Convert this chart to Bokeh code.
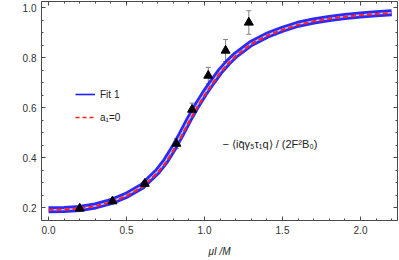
from bokeh.plotting import figure
from bokeh.models import (ColumnDataSource, Range1d, LinearAxis, Legend, LegendItem,
                          Label, Whisker, TeeHead, FixedTicker, PrintfTickFormatter)
from bokeh.embed import file_html
from bokeh.resources import INLINE

# ---- data ----
fit_x = [0.0, 0.1, 0.2, 0.3, 0.4, 0.5, 0.6, 0.7, 0.75, 0.8, 0.85, 0.9, 0.95, 1.0,
         1.05, 1.1, 1.15, 1.2, 1.3, 1.4, 1.5, 1.6, 1.7, 1.8, 1.9, 2.0, 2.1, 2.2]
fit_y = [0.192, 0.193, 0.197, 0.207, 0.224, 0.250, 0.286, 0.346, 0.386, 0.436, 0.492,
         0.552, 0.607, 0.657, 0.702, 0.745, 0.780, 0.810, 0.857, 0.889, 0.913, 0.933,
         0.946, 0.956, 0.964, 0.970, 0.975, 0.979]
a1_y = [0.192, 0.193, 0.197, 0.206, 0.222, 0.247, 0.282, 0.340, 0.379, 0.428, 0.483,
        0.543, 0.598, 0.649, 0.695, 0.739, 0.775, 0.806, 0.854, 0.887, 0.911, 0.931,
        0.945, 0.955, 0.963, 0.969, 0.974, 0.978]
pts_x = [0.20, 0.41, 0.617, 0.82, 0.92, 1.024, 1.135, 1.284]
pts_y = [0.197, 0.226, 0.296, 0.456, 0.592, 0.728, 0.828, 0.940]
pts_err = [0.006, 0.008, 0.010, 0.020, 0.026, 0.033, 0.044, 0.047]
x_major = [0.0, 0.5, 1.0, 1.5, 2.0]
y_major = [0.2, 0.4, 0.6, 0.8, 1.0]
x_minor = [i / 10 for i in range(0, 23)]
y_minor = [0.15 + i * 0.05 for i in range(0, 18)]
x_title = "μI /M"

p = figure(width=399, height=260, output_backend="svg", toolbar_location=None,
           x_range=Range1d(-0.045, 2.237), y_range=Range1d(0.149, 1.024),
           x_axis_type=None, y_axis_type=None,
           min_border_left=41, min_border_right=2, min_border_top=1, min_border_bottom=40)
p.styles = {"position": "absolute", "left": "0px", "top": "0px"}
p.outline_line_color = None
p.grid.visible = False
p.background_fill_color = "white"
p.border_fill_color = "white"

def make_axis(ticks, minors, show_labels):
    ax = LinearAxis(ticker=FixedTicker(ticks=ticks, minor_ticks=minors),
                    formatter=PrintfTickFormatter(format="%.1f"))
    ax.axis_line_color = "#4a4a4a"
    ax.major_tick_line_color = "#4a4a4a"
    ax.minor_tick_line_color = "#4a4a4a"
    ax.major_tick_in = 4
    ax.major_tick_out = 0
    ax.minor_tick_in = 2
    ax.minor_tick_out = 0
    ax.major_label_text_font = "Liberation Sans"
    ax.major_label_text_color = "#333333"
    if show_labels:
        ax.major_label_text_font_size = "10px"
        ax.major_label_standoff = 5
    else:
        ax.major_label_text_font_size = "0px"
        ax.major_label_standoff = 0
        ax.major_label_overrides = {t: "" for t in ticks}
    return ax

xax = make_axis(x_major, x_minor, True)
xax.axis_label = x_title
xax.axis_label_text_font = "Liberation Sans"
xax.axis_label_text_font_size = "10px"
xax.axis_label_text_font_style = "italic"
xax.axis_label_text_color = "#222222"
xax.axis_label_standoff = 9
p.add_layout(xax, "below")
p.add_layout(make_axis(y_major, y_minor, True), "left")
p.add_layout(make_axis(x_major, x_minor, False), "above")
p.add_layout(make_axis(y_major, y_minor, False), "right")

fit_src = ColumnDataSource(dict(x=fit_x, y=fit_y))
a1_src = ColumnDataSource(dict(x=fit_x, y=a1_y))

p.line("x", "y", source=fit_src, line_color="#1f1fff", line_width=7, line_alpha=0.95)
p.line("x", "y", source=fit_src, line_color="#c4c4ec", line_width=1.5)
p.line("x", "y", source=a1_src, line_color="#ff2020", line_width=2.2, line_dash="5 3")

# legend proxies (thin blue line / red dashes)
leg_fit = p.line([0], [0], line_color="#1f1fff", line_width=1.6, visible=False)
leg_a1 = p.line([0], [0], line_color="#ff2020", line_width=1.6, line_dash="4 3", visible=False)

upper = [y + e for y, e in zip(pts_y, pts_err)]
lower = [y - e for y, e in zip(pts_y, pts_err)]
pts_src = ColumnDataSource(dict(x=pts_x, y=pts_y, upper=upper, lower=lower))
wh = Whisker(base="x", upper="upper", lower="lower", source=pts_src, line_color="#808080",
             line_width=1,
             upper_head=TeeHead(size=5, line_color="#808080", line_width=1),
             lower_head=TeeHead(size=5, line_color="#808080", line_width=1))
p.add_layout(wh)
p.scatter("x", "y", source=pts_src, marker="triangle", size=9, fill_color="black",
          line_color="black")

legend = Legend(items=[LegendItem(label="Fit 1", renderers=[leg_fit]),
                       LegendItem(label="a₁=0", renderers=[leg_a1])],
                location=(34, 93), orientation="vertical",
                background_fill_alpha=0, border_line_color=None,
                padding=0, margin=0, spacing=3, glyph_width=20, glyph_height=20,
                label_height=20, label_standoff=5,
                label_text_font="Liberation Sans", label_text_font_size="10px",
                label_text_color="#222222")
p.add_layout(legend)

p.add_layout(Label(x=1.115, y=0.453, text="− ⟨iq̄γ₅τ₁q⟩ / (2F²B₀)",
                   text_font="Liberation Sans", text_font_size="11px",
                   text_color="#222222", text_baseline="middle", text_align="left"))

open("out.html", "w").write(file_html(p, INLINE))
